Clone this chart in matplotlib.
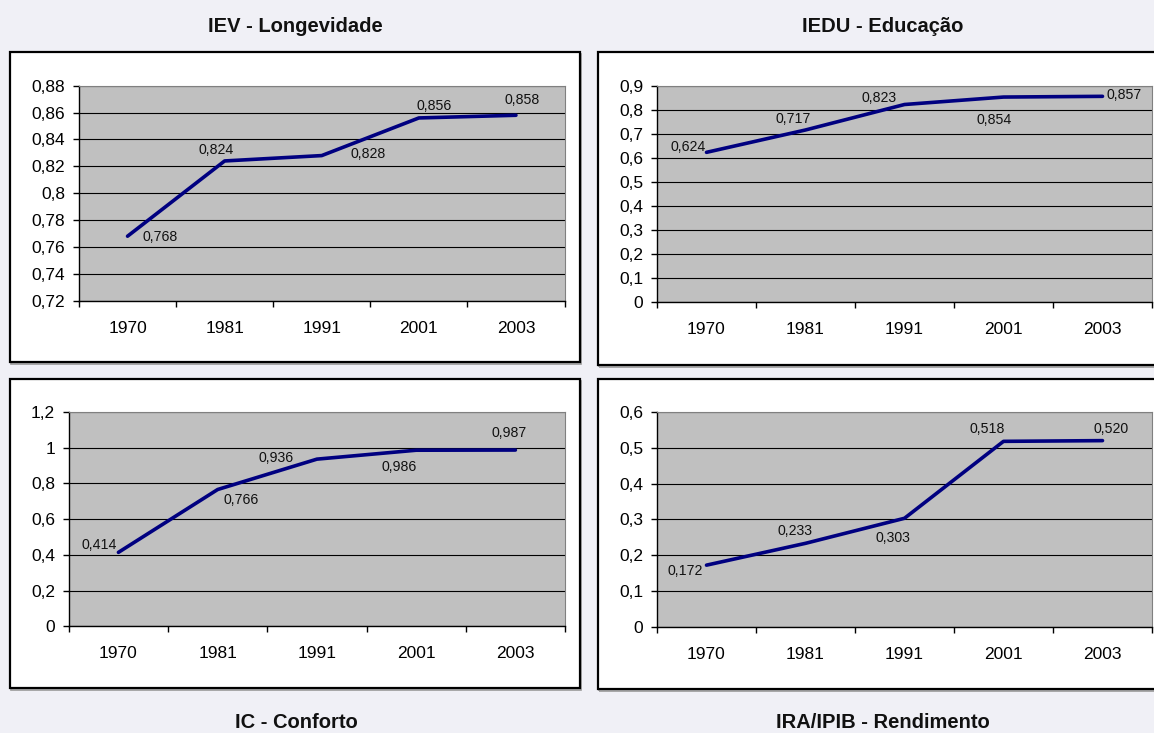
import matplotlib as mpl
import matplotlib.pyplot as plt
from matplotlib.patches import Rectangle
from matplotlib.ticker import MultipleLocator, FuncFormatter

mpl.rc('font', family=['Liberation Sans', 'DejaVu Sans'])

anos = ['1970', '1981', '1991', '2001', '2003']
iev = [0.768, 0.824, 0.828, 0.856, 0.858]
iedu = [0.624, 0.717, 0.823, 0.854, 0.857]
ic = [0.414, 0.766, 0.936, 0.986, 0.987]
ira = [0.172, 0.233, 0.303, 0.518, 0.520]

W, H = 1154, 733
fundo = '#F0F0F6'
cinza = '#C0C0C0'
azul = '#000080'


def frac(x0, y0, x1, y1):
    # pixel box (top-left origin) -> figure fraction [left, bottom, width, height]
    return [x0 / W, (H - y1) / H, (x1 - x0) / W, (y1 - y0) / H]


def virgula(v, pos=None):
    return f'{round(v, 3):g}'.replace('.', ',')


def moldura(fig, x0, y0, x1, y1):
    l, b, w, h = frac(x0, y0, x1, y1)
    fig.add_artist(Rectangle((l + 1.5 / W, b - 1.5 / H), w, h, transform=fig.transFigure,
                             facecolor='none', edgecolor='#9a9a9a', linewidth=1.2, zorder=-2))
    fig.add_artist(Rectangle((l, b), w, h, transform=fig.transFigure,
                             facecolor='white', edgecolor='black', linewidth=1.6, zorder=-1))


def painel(fig, caixa, valores, ylim, passo, desloc):
    ax = fig.add_axes(frac(*caixa))
    ax.set_facecolor(cinza)
    x = range(len(anos))
    ax.plot(x, valores, color=azul, linewidth=2.6, solid_capstyle='round', zorder=3)
    ax.set_xlim(-0.5, len(anos) - 0.5)
    ax.set_ylim(*ylim)

    ax.yaxis.set_major_locator(MultipleLocator(passo))
    ax.yaxis.set_major_formatter(FuncFormatter(virgula))
    ax.grid(axis='y', color='black', linewidth=0.8, zorder=1)
    ax.set_axisbelow(True)

    ax.set_xticks(list(x), anos)
    ax.set_xticks([i - 0.5 for i in range(len(anos) + 1)], minor=True)
    ax.tick_params(axis='x', which='major', length=0, pad=14.5, labelsize=12.5)
    ax.tick_params(axis='x', which='minor', length=4, width=1, direction='out')
    ax.tick_params(axis='y', length=4, width=1, direction='out', pad=6, labelsize=12.5)

    for lado in ['top', 'right']:
        ax.spines[lado].set_color('#808080')
        ax.spines[lado].set_linewidth(0.8)
    for lado in ['left', 'bottom']:
        ax.spines[lado].set_color('black')
        ax.spines[lado].set_linewidth(1)

    # rótulos de dados, deslocados como no original
    for i, v in enumerate(valores):
        ax.annotate(f'{v:.3f}'.replace('.', ','), (i, v), xytext=desloc[i],
                    textcoords='offset pixels', ha='center', va='center',
                    fontsize=10.2, color='#111111', zorder=4)
    return ax


fig = plt.figure(figsize=(W / 100, H / 100), dpi=100)
fig.patch.set_facecolor(fundo)

moldura(fig, 10, 52, 580, 362)
moldura(fig, 597.5, 52.5, 1175, 365)
moldura(fig, 10, 379, 580, 688)
moldura(fig, 597.5, 379, 1175, 689)

painel(fig, (79, 85.7, 564.5, 300.7), iev, (0.72, 0.88), 0.02,
       [(33, -1), (-9, 11), (46, 2), (15, 12), (6, 15)])
painel(fig, (657, 86, 1152, 302.3), iedu, (0, 0.9), 0.1,
       [(-18, 5), (-12, 11), (-25, 7), (-9, -23), (22, 1)])
painel(fig, (68.8, 412, 565, 626.3), ic, (0, 1.2), 0.2,
       [(-19, 7), (23, -10), (-41, 1), (-17, -17), (-6, 17)])
painel(fig, (657, 412, 1152, 626.7), ira, (0, 0.6), 0.1,
       [(-21, -6), (-10, 12), (-12, -20), (-16, 12), (9, 12)])

titulos = [('IEV - Longevidade', 295, 26.5), ('IEDU - Educação', 882.5, 26.5),
           ('IC - Conforto', 296, 723), ('IRA/IPIB - Rendimento', 883, 723)]
for texto, tx, ty in titulos:
    fig.text(tx / W, 1 - ty / H, texto, ha='center', va='center',
             fontsize=14.5, fontweight='bold', color='#111111')

plt.savefig('out.png', dpi=100, facecolor=fundo)
